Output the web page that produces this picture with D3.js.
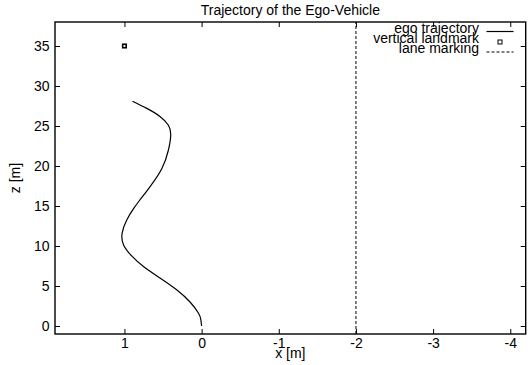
<!DOCTYPE html>
<html><head><meta charset="utf-8">
<script src="https://cdn.jsdelivr.net/npm/d3@7"></script>
<style>
body{margin:0;background:#fff;}
text{font-family:"Liberation Sans",Arial,Helvetica,sans-serif;fill:#000;}
</style></head>
<body><svg id="c" width="531" height="365"></svg>
<script>
// ---- data ----
const trajX = [0, 0.01, 0.04, 0.15, 0.32, 0.54, 0.75, 0.90, 1.01, 1.03, 0.97, 0.88, 0.80, 0.67, 0.515, 0.43, 0.40, 0.43, 0.54, 0.71, 0.895];
const trajZ = [0, 0.8, 1.6, 3.0, 4.5, 6.0, 7.4, 8.7, 10.1, 11.6, 13.25, 14.7, 15.75, 17.4, 19.7, 22, 23.9, 25.1, 26.2, 27.2, 28.1];
const landmarkX = [1];
const landmarkZ = [35];
const laneX = [-2, -2];
const laneZ = [-1, 38];
const xTicks = [1, 0, -1, -2, -3, -4];
const yTicks = [0, 5, 10, 15, 20, 25, 30, 35];
const legendLabels = ["ego trajectory", "vertical landmark", "lane marking"];
const titleText = "Trajectory of the Ego-Vehicle";
const xLabel = "x [m]";
const yLabel = "z [m]";

// ---- layout ----
const W = 531, H = 365;
const m = {l: 55, r: 5.3, t: 22, b: 31};
const iw = W - m.l - m.r, ih = H - m.t - m.b;
const svg = d3.select("#c");
const g = svg.append("g").attr("transform", `translate(${m.l},${m.t})`);
const x = d3.scaleLinear().domain([1.9, -4.2]).range([0, iw]);
const y = d3.scaleLinear().domain([-1, 38]).range([ih, 0]);
const fs = "14px";
const fmt = d => String(d);

function styleAxis(sel, noLabels) {
  sel.select(".domain").remove();
  sel.selectAll(".tick line").attr("stroke", "#000").attr("stroke-width", 1);
  sel.selectAll(".tick text").style("font-size", fs).attr("fill", "#000");
  if (noLabels) sel.selectAll(".tick text").remove();
}
g.append("g").attr("transform", `translate(0,${ih})`)
  .call(d3.axisBottom(x).tickValues(xTicks).tickFormat(fmt).tickSize(-5).tickPadding(4))
  .call(s => styleAxis(s, false));
g.append("g")
  .call(d3.axisTop(x).tickValues(xTicks).tickSize(-5))
  .call(s => styleAxis(s, true));
g.append("g")
  .call(d3.axisLeft(y).tickValues(yTicks).tickFormat(fmt).tickSize(-5).tickPadding(5.5))
  .call(s => styleAxis(s, false));
g.append("g").attr("transform", `translate(${iw},0)`)
  .call(d3.axisRight(y).tickValues(yTicks).tickSize(-5))
  .call(s => styleAxis(s, true));

// frame
g.append("rect").attr("width", iw).attr("height", ih)
  .attr("fill", "none").attr("stroke", "#000").attr("stroke-width", 1.4);

// lane marking
g.append("path")
  .attr("d", d3.line().x((d, i) => x(laneX[i])).y((d, i) => y(laneZ[i]))(laneX))
  .attr("fill", "none").attr("stroke", "#000").attr("stroke-width", 1)
  .attr("stroke-dasharray", "3,2");

// trajectory
g.append("path")
  .attr("d", d3.line().curve(d3.curveNatural)
    .x((d, i) => x(trajX[i])).y((d, i) => y(trajZ[i]))(trajX))
  .attr("fill", "none").attr("stroke", "#000").attr("stroke-width", 1.2);

// landmark
g.selectAll(".lm").data(landmarkX).enter().append("rect")
  .attr("x", (d, i) => x(d) - 1.75).attr("y", (d, i) => y(landmarkZ[i]) - 1.75)
  .attr("width", 3.5).attr("height", 3.5)
  .attr("fill", "#fff").attr("stroke", "#000").attr("stroke-width", 1.6);

// title & labels
svg.append("text").attr("x", m.l + iw / 2).attr("y", 15).attr("text-anchor", "middle")
  .style("font-size", fs).text(titleText);
svg.append("text").attr("x", m.l + iw / 2).attr("y", 358).attr("text-anchor", "middle")
  .style("font-size", fs).text(xLabel);
svg.append("text").attr("transform", `translate(20,${m.t + ih / 2}) rotate(-90)`)
  .attr("text-anchor", "middle").style("font-size", fs).text(yLabel);

// legend
const legTextX = 479, legX0 = 486.5, legX1 = 513.5;
const legBase = [33, 43, 52.5];
const legLineY = [31.5, 42, 52];
legendLabels.forEach((lab, i) => {
  svg.append("text").attr("x", legTextX).attr("y", legBase[i]).attr("text-anchor", "end")
    .style("font-size", fs).text(lab);
});
svg.append("line").attr("x1", legX0).attr("x2", legX1).attr("y1", legLineY[0]).attr("y2", legLineY[0])
  .attr("stroke", "#000").attr("stroke-width", 1.2);
svg.append("rect").attr("x", (legX0 + legX1) / 2 - 2).attr("y", legLineY[1] - 2)
  .attr("width", 4).attr("height", 4).attr("fill", "#fff").attr("stroke", "#000").attr("stroke-width", 1);
svg.append("line").attr("x1", legX0).attr("x2", legX1).attr("y1", legLineY[2]).attr("y2", legLineY[2])
  .attr("stroke", "#000").attr("stroke-width", 1).attr("stroke-dasharray", "3,2");
</script></body></html>
